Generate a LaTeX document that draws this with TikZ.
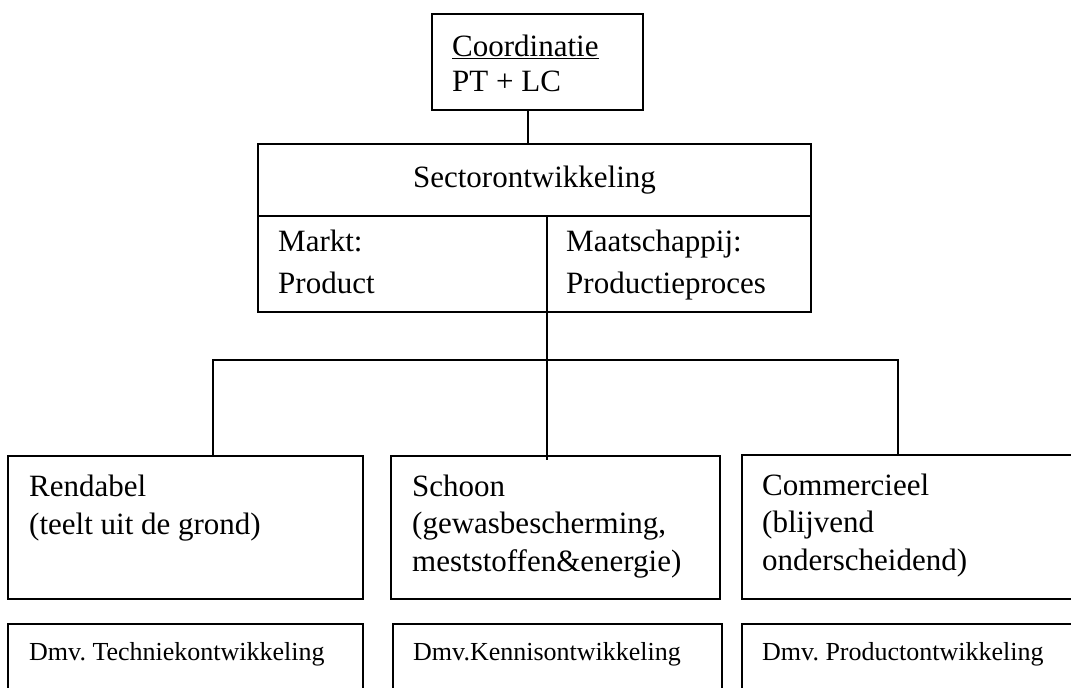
\documentclass[tikz,border=0pt]{standalone}
\usepackage{fontspec}
\setmainfont{Liberation Serif}
\frenchspacing
\begin{document}
\begin{tikzpicture}[x=1pt,y=-1pt,
  box/.style={draw,line width=1.6pt,inner sep=0pt},
  big/.style={inner sep=0pt,anchor=base west,align=left,font=\fontsize{31}{37.5}\selectfont},
  small/.style={inner sep=0pt,anchor=base west,font=\fontsize{26}{30}\selectfont},
  conn/.style={line width=1.6pt}]
\useasboundingbox (0,0) rectangle (1071,688);
\clip (0,0) rectangle (1071,688);
% boxes
\draw[box] (432,14) rectangle (643,110);
\coordinate (cb) at (528,110);
\draw[box] (258,144) rectangle (811,312);
\coordinate (st) at (528,144);
\draw[conn] (258,216) -- (811,216);
\draw[conn] (547,216) -- (547,312);
\coordinate (sb) at (547,312);
\draw[box] (8,456) rectangle (363,599);
\draw[box] (391,456) rectangle (720,599);
\draw[box] (742,455) rectangle (1090,599);
\draw[box] (8,624) rectangle (363,700);
\draw[box] (393,624) rectangle (722,700);
\draw[box] (742,624) rectangle (1090,700);
\coordinate (r1) at (213,456);
\coordinate (r2) at (547,460);
\coordinate (r3) at (898,455);
\coordinate (hl) at (213,360);
\coordinate (hr) at (898,360);
% connectors
\draw[conn] (cb) -- (st);
\draw[conn] (sb) -- (r2);
\draw[conn] (r1) -- (hl) -- (hr) -- (r3);
% texts (base = baseline of the last line)
\node[big] (tcoord) at (452,91) {\underline{Coordinatie}\\[-2.5pt]PT + LC};
\node[big,anchor=base] (tsector) at (534.5,187) {Sectorontwikkeling};
\node[big] (tmarkt) at (278,293) {Markt:\\[4pt]Product};
\node[big] (tmaat) at (566,293) {Maatschappij:\\[4pt]Productieproces};
\node[big] (trend) at (29,534) {Rendabel\\(teelt uit de grond)};
\node[big] (tschoon) at (412,571) {Schoon\\(gewasbescherming,\\meststoffen\&energie)};
\node[big] (tcomm) at (762,570) {Commercieel\\(blijvend\\onderscheidend)};
\node[small] (d1) at (29,660) {Dmv. Techniekontwikkeling};
\node[small] (d2) at (413,660) {Dmv.Kennisontwikkeling};
\node[small] (d3) at (762,660) {Dmv. Productontwikkeling};
\end{tikzpicture}
\end{document}
